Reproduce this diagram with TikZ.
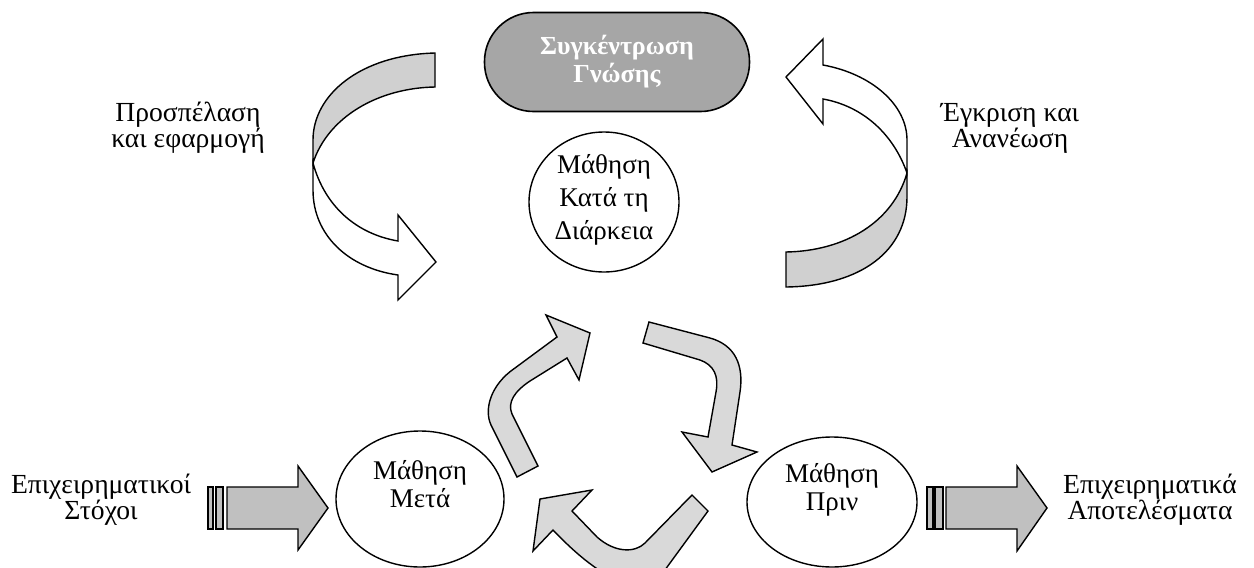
\documentclass[tikz,border=0pt]{standalone}
\usepackage{fontspec}
\setmainfont{Liberation Serif}
\usetikzlibrary{shapes.geometric}
\definecolor{hubgray}{RGB}{166,166,166}
\definecolor{backgray}{RGB}{208,208,208}
\definecolor{cyclegray}{RGB}{217,217,217}
\definecolor{blockgray}{RGB}{192,192,192}

\begin{document}
\begin{tikzpicture}[x=0.5pt,y=-0.5pt]
    \tikzstyle{outline}=[draw,line width = .7pt,black,line join=miter]
    \tikzstyle{stage}=[draw,ellipse,line width = .7pt,inner sep=0pt]
    \tikzstyle{stagetext}=[align=center,inner sep=0pt,font=\fontsize{13.5}{14}\selectfont]
    \tikzstyle{hub}=[draw,rectangle,rounded corners=24.5pt,fill=hubgray,text=white,line width = .8pt,minimum width=132.5pt,minimum height=49.5pt,align=center,font=\bfseries\fontsize{13}{14}\selectfont]
    \tikzstyle{note}=[align=center,inner sep=0pt,font=\fontsize{13.8}{13}\selectfont]
    \tikzstyle{cyclearrow}=[outline,fill=cyclegray]
    \tikzstyle{blockarrow}=[outline,fill=blockgray]
    \clip (0,0) rectangle (1254,568);
    \node[hub] (gnosi) at (617,62) {Συγκέντρωση\\Γνώσης};
    \node[stage,minimum width=75pt,minimum height=70pt] (kata) at (604,202) {};
    \node[stagetext,font=\fontsize{13.5}{16.5}\selectfont] at ([yshift=1pt]kata.center) {Μάθηση\\Κατά τη\\Διάρκεια};
    \node[stage,minimum width=84pt,minimum height=68pt] (meta) at (420,499) {};
    \node[stagetext] at ([yshift=7.5pt]meta.center) {Μάθηση\\Μετά};
    \node[stage,minimum width=85pt,minimum height=65pt] (prin) at (832,502) {};
    \node[stagetext] at ([yshift=6pt]prin.center) {Μάθηση\\Πριν};
    \node[note] (prosp) at (188,128) {Προσπέλαση\\και εφαρμογή};
    \node[note] (egkr) at (1010,128) {Έγκριση και\\Ανανέωση};
    \node[note] (stoxoi) at (101,500) {Επιχειρηματικοί\\Στόχοι};
    \node[note] (apot) at (1150,500) {Επιχειρηματικά\\Αποτελέσματα};
    \draw[outline,fill=backgray] (435,53) .. controls (360,55) and (313,95) .. (313,140) -- (313,163) .. controls (328,117) and (378,88) .. (435,87) -- cycle;
    \draw[outline,fill=white] (313,163) .. controls (325,207) and (357,234) .. (398,241) -- (398,215) -- (436,262) -- (398,300) -- (398,275) .. controls (348,268) and (313,235) .. (313,190) -- cycle;
    \draw[outline,fill=white] (786,77) -- (823,39) -- (823,65) .. controls (872,74) and (907,105) .. (907,140) -- (907,173) .. controls (893,133) and (862,106) .. (823,99) -- (823,124) -- cycle;
    \draw[outline,fill=backgray] (907,173) .. controls (893,222) and (845,251) .. (786,252) -- (786,287) .. controls (862,286) and (907,250) .. (907,197) -- cycle;
    \draw[cyclearrow] (517,477) -- (491,425) .. controls (484,410) and (490,385) .. (515,368) -- (557,337) -- (546,315) -- (590,333) -- (579,380) -- (567,358) -- (530,381) .. controls (515,391) and (507,402) .. (512,414) -- (538,466) -- cycle;
    \draw[cyclearrow] (649,322) -- (710,338) .. controls (735,345) and (744,365) .. (740,392) -- (732,445) -- (757,452) -- (712,472) -- (682,432) -- (708,437) -- (716,392) .. controls (719,376) and (714,365) .. (700,360) -- (643,343) -- cycle;
    \draw[cyclearrow] (692,495) -- (645,543) .. controls (635,553) and (615,553) .. (597,537) -- (572,511) -- (592,490) -- (540,499) -- (533,551) -- (553,530) .. controls (575,553) and (600,575) .. (628,585) .. controls (645,590) and (655,582) .. (662,574) -- (708,511) -- cycle;
    \draw[blockarrow] (208,487) rectangle (213,529);
    \draw[blockarrow] (216,487) rectangle (223,529);
    \draw[blockarrow] (227,487) -- (298,487) -- (298,466) -- (328,508) -- (298,550) -- (298,529) -- (227,529) -- cycle;
    \draw[blockarrow] (927,487) rectangle (933,529);
    \draw[blockarrow] (935,487) rectangle (943,529);
    \draw[blockarrow] (946,487) -- (1017,487) -- (1017,466) -- (1047,508) -- (1017,551) -- (1017,529) -- (946,529) -- cycle;
\end{tikzpicture}
\end{document}
